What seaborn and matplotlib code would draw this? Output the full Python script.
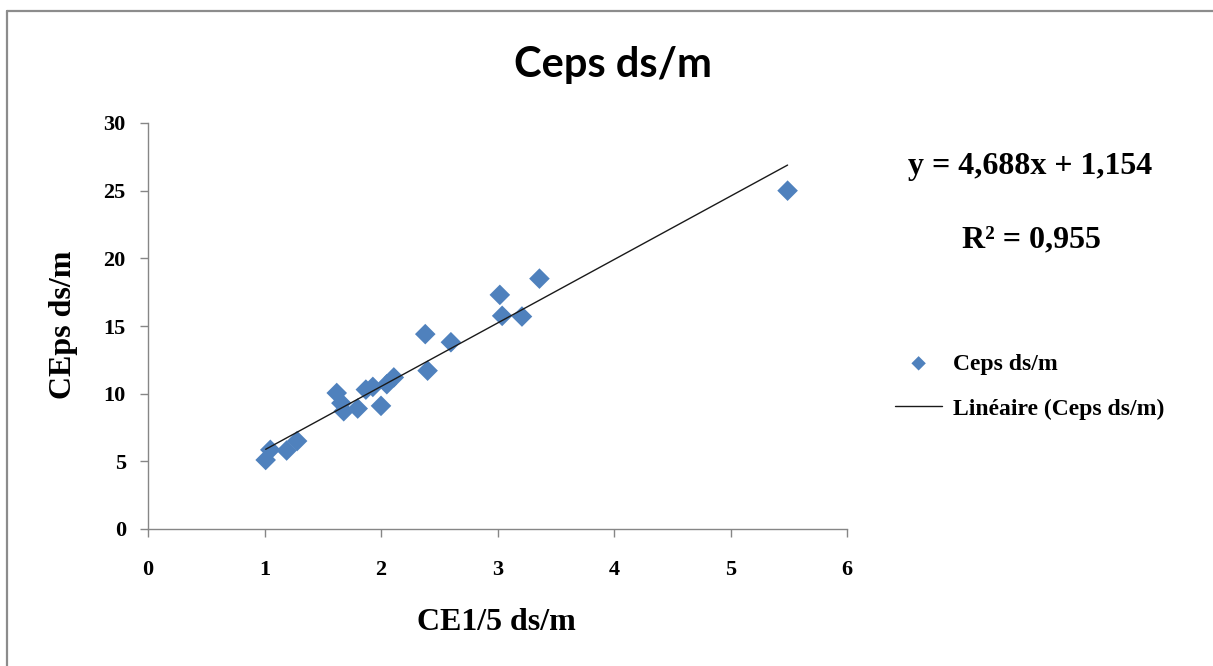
import numpy as np
import pandas as pd
import matplotlib
matplotlib.use("Agg")
import matplotlib.pyplot as plt
from matplotlib.lines import Line2D
import seaborn as sns

# ---- data ----
ce15 = [1.01, 1.05, 1.19, 1.28, 1.62, 1.66, 1.68, 1.80, 1.87, 1.93, 2.00,
        2.05, 2.11, 2.38, 2.40, 2.60, 3.02, 3.04, 3.21, 3.36, 5.49]
ceps = [5.1, 5.85, 5.8, 6.5, 10.05, 9.3, 8.7, 8.9, 10.3, 10.5, 9.1,
        10.7, 11.2, 14.4, 11.7, 13.8, 17.3, 15.75, 15.7, 18.5, 25.0]
slope = 4.688
intercept = 1.154
eq_text = "y = 4,688x + 1,154"
r2_text = "R\u00b2 = 0,955"
title_text = "Ceps ds/m"
x_label = "CE1/5 ds/m"
y_label = "CEps ds/m"
series_label = "Ceps ds/m"
trend_label = "Linéaire (Ceps ds/m)"
x_ticks = [0, 1, 2, 3, 4, 5, 6]
y_ticks = [0, 5, 10, 15, 20, 25, 30]

df = pd.DataFrame({"x": ce15, "y": ceps})

sns.set_style("white")
plt.rcParams["font.family"] = ["Liberation Serif", "DejaVu Serif"]
plt.rcParams["text.color"] = "black"

W, H = 1213, 666
fig = plt.figure(figsize=(W / 100, H / 100), dpi=100)
ax = fig.add_axes([148 / W, 1 - 529 / H, 699 / W, 406 / H])

blue = "#4F81BD"
sns.scatterplot(data=df, x="x", y="y", ax=ax, marker="D", s=110, color=blue,
                edgecolor="none", linewidth=0, label=series_label, zorder=3)

xs = np.array([min(ce15), max(ce15)])
trend = pd.DataFrame({"x": xs, "y": slope * xs + intercept})
sns.lineplot(data=trend, x="x", y="y", ax=ax, color="#1a1a1a", linewidth=1.0,
             label=trend_label, zorder=4)

ax.set_xlim(0, 6)
ax.set_ylim(0, 30)
ax.set_xticks(x_ticks)
ax.set_yticks(y_ticks)
ax.set_xticklabels([str(t) for t in x_ticks])
ax.set_yticklabels([str(t) for t in y_ticks])

for s in ["top", "right"]:
    ax.spines[s].set_visible(False)
for s in ["left", "bottom"]:
    ax.spines[s].set_color("#868686")
    ax.spines[s].set_linewidth(1.0)

ax.tick_params(axis="both", which="major", direction="out", length=6,
               width=1.0, color="#868686", labelsize=16, labelcolor="black",
               left=True, bottom=True)
ax.tick_params(axis="y", pad=10)
ax.tick_params(axis="x", pad=16)
for lab in ax.get_xticklabels() + ax.get_yticklabels():
    lab.set_fontweight("bold")

ax.set_xlabel("")
ax.set_ylabel("")
fig.text(496.5 / W, 1 - 622 / H, x_label, ha="center", va="center",
         fontsize=23, fontweight="bold", color="black")
fig.text(63 / W, 1 - 325 / H, y_label, ha="center", va="center",
         fontsize=23, fontweight="bold", rotation=90, color="black")

fig.text(612.5 / W, 1 - 77 / H, title_text, ha="center", va="baseline",
         fontsize=30, fontweight="bold", family=["Lato", "DejaVu Sans"],
         color="black")

fig.text(1030 / W, 1 - 166 / H, eq_text, ha="center", va="center",
         fontsize=23, fontweight="bold", color="black")
fig.text(1031 / W, 1 - 240 / H, r2_text, ha="center", va="center",
         fontsize=23, fontweight="bold", color="black")

if ax.legend_:
    ax.legend_.remove()
handles, labels = ax.get_legend_handles_labels()
leg = fig.legend(handles, labels, loc="upper left",
                 bbox_to_anchor=(895 / W, 1 - 353 / H), frameon=False,
                 borderpad=0, borderaxespad=0, handlelength=2.0,
                 handletextpad=0.47, labelspacing=1.0, markerscale=0.7,
                 prop={"size": 17, "weight": "bold",
                       "family": ["Liberation Serif", "DejaVu Serif"]})
for t in leg.get_texts():
    t.set_color("black")

# outer chart border (only top and left visible in the reference)
fig.add_artist(Line2D([7 / W, 7 / W], [0, 1 - 11 / H], transform=fig.transFigure,
                      color="#8c8c8c", linewidth=1.6))
fig.add_artist(Line2D([7 / W, 1], [1 - 11 / H, 1 - 11 / H], transform=fig.transFigure,
                      color="#8c8c8c", linewidth=1.6))

fig.savefig("out.png", dpi=100, facecolor="white")
